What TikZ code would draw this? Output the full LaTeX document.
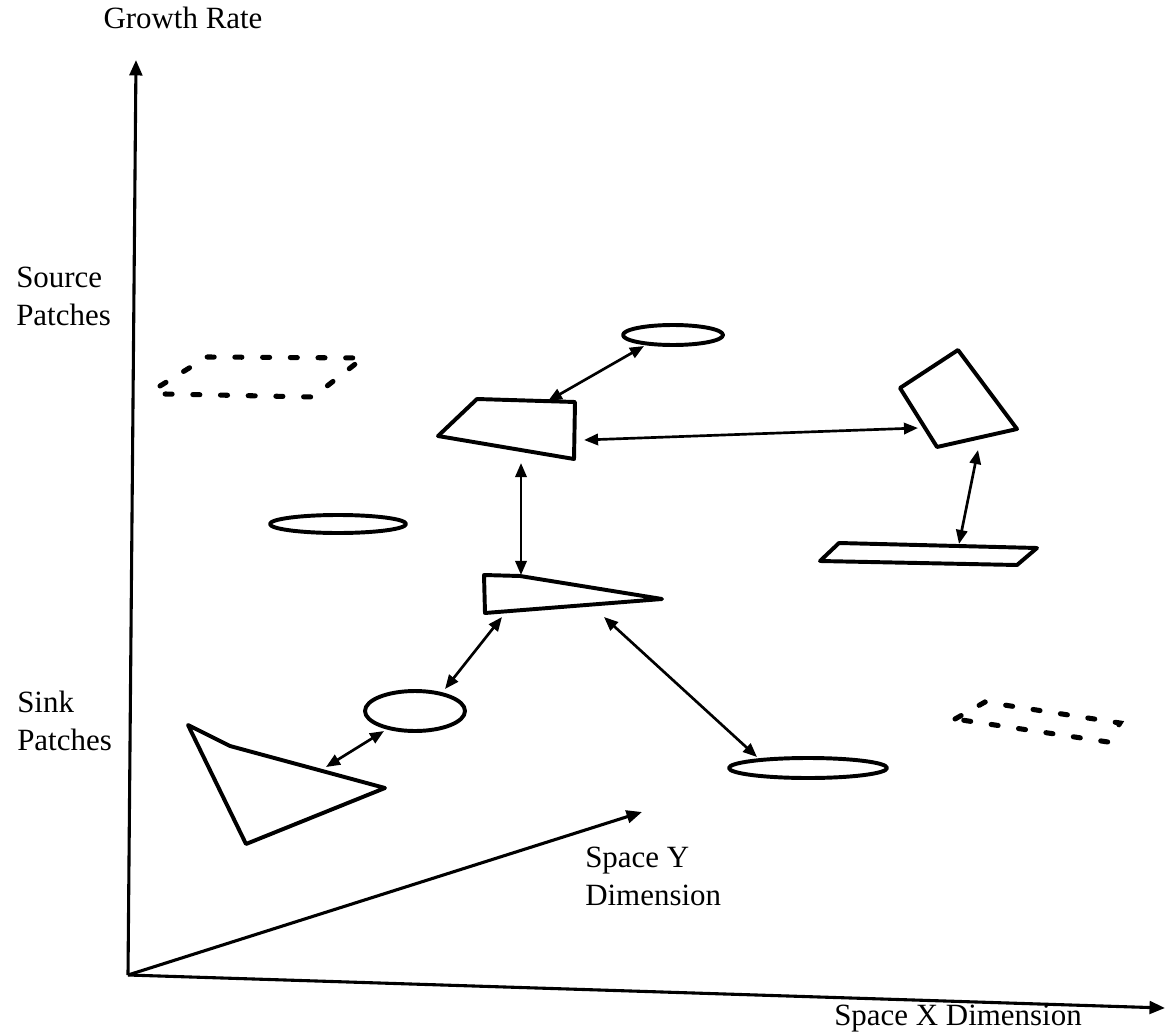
\documentclass[tikz,border=0pt]{standalone}
\usepackage{fontspec}
\setmainfont{Liberation Serif}
\usetikzlibrary{arrows.meta}

\begin{document}
\begin{tikzpicture}[x=0.025cm, y=-0.025cm,
  axis/.style={line width=2.2pt, -{Triangle[length=11pt,width=9pt]}},
  patch/.style={line width=2.8pt, line join=round},
  ghost/.style={line width=3.6pt, dash pattern=on 5pt off 14.7pt, line cap=round},
  link/.style={line width=1.9pt, {Triangle[length=10pt,width=8pt]}-{Triangle[length=10pt,width=8pt]}},
  lbl/.style={font=\fontsize{22}{27}\selectfont, align=left, inner sep=0pt}]

\useasboundingbox (0,0) rectangle (1168,1036);

% axes
\coordinate (O) at (128,975);
\coordinate (ytop) at (136,60);
\coordinate (xend) at (1165,1008);
\coordinate (zend) at (642,812);
\draw[axis] (O) -- (ytop);
\draw[axis] (O) -- (xend);
\draw[axis] (O) -- (zend);

% labels
\node[lbl] (growth) at (183,18) {Growth Rate};
\node[lbl, anchor=west] (source) at (16,296) {Source\\Patches};
\node[lbl, anchor=west] (sink) at (17,721) {Sink\\Patches};
\node[lbl, anchor=west] (spacey) at (585,876) {Space Y\\Dimension};
\node[lbl] (spacex) at (958,1019) {Space X Dimension};

% patches
\draw[ghost] (160,386) -- (207,357) -- (363,358) -- (313,397) -- (165,394) -- cycle;
\draw[ghost] (955,719) -- (985,702) -- (1120,723) -- (1108,742) -- cycle;
\draw[patch] (673,335) ellipse [x radius=50, y radius=10];
\draw[patch] (338,524) ellipse [x radius=68, y radius=9];
\draw[patch] (415,711) ellipse [x radius=50, y radius=20];
\draw[patch] (808,768) ellipse [x radius=79, y radius=10];
\draw[patch] (438,436) -- (477,399) -- (575,402) -- (574,459) -- cycle;
\draw[patch] (900,388) -- (958,350) -- (1017,429) -- (937,447) -- cycle;
\draw[patch] (820,561) -- (839,543) -- (1037,548) -- (1017,565) -- cycle;
\draw[patch] (484,575) -- (520,576) -- (662,599) -- (485,613) -- cycle;
\draw[patch] (188,725) -- (230,746) -- (385,788) -- (246,844) -- cycle;

% link ends
\coordinate (trapN) at (548,401);
\coordinate (topOval) at (644,346);
\coordinate (trapE) at (584,440);
\coordinate (rectW) at (918,428);
\coordinate (trapS) at (521,463);
\coordinate (wedgeN) at (521,575);
\coordinate (rectS) at (978,450);
\coordinate (barN) at (959,544);
\coordinate (wedgeSW) at (502,617);
\coordinate (smallOvalN) at (445,689);
\coordinate (wedgeSE) at (604,617);
\coordinate (lowOval) at (757,757);
\coordinate (smallOvalS) at (384,731);
\coordinate (triN) at (326,767);

% links
\draw[link] (trapN) -- (topOval);
\draw[link] (trapE) -- (rectW);
\draw[link] (trapS) -- (wedgeN);
\draw[link] (rectS) -- (barN);
\draw[link] (wedgeSW) -- (smallOvalN);
\draw[link] (wedgeSE) -- (lowOval);
\draw[link] (smallOvalS) -- (triN);
\end{tikzpicture}
\end{document}
